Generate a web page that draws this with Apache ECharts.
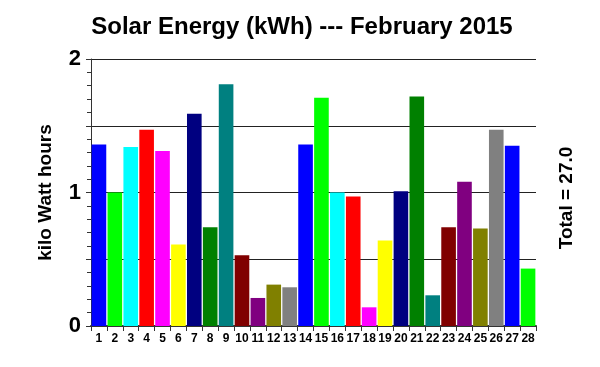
<!DOCTYPE html>
<html>
<head>
<meta charset="utf-8">
<script src="https://cdn.jsdelivr.net/npm/echarts@6/dist/echarts.min.js"></script>
<style>html,body{margin:0;padding:0;background:#fff}#c{width:600px;height:367px}</style>
</head>
<body>
<div id="c"></div>
<script>
const days = ['1','2','3','4','5','6','7','8','9','10','11','12','13','14','15','16','17','18','19','20','21','22','23','24','25','26','27','28'];
const energy = [1.36,1.00,1.34,1.47,1.31,0.61,1.59,0.74,1.81,0.53,0.21,0.31,0.29,1.36,1.71,1.00,0.97,0.14,0.64,1.01,1.72,0.23,0.74,1.08,0.73,1.47,1.35,0.43];
const palette = ['#0000FF','#00FF00','#00FFFF','#FF0000','#FF00FF','#FFFF00','#000080','#008000','#008080','#800000','#800080','#808000','#808080'];
const yTickLabels = ['0','1','2'];
const titleText = 'Solar Energy (kWh) --- February 2015';
const yName = 'kilo Watt hours';
const totalText = 'Total = 27.0';

const font = 'Liberation Sans, Arial, sans-serif';
const chart = echarts.init(document.getElementById('c'), null, {renderer:'canvas'});
chart.setOption({
  animation: false,
  backgroundColor: '#fff',
  title: {
    text: titleText, left: 297, top: 10, textAlign: 'center',
    textStyle: {fontFamily: font, fontSize: 24, fontWeight: 'bold', color: '#000'}
  },
  grid: {left: 91, right: 64, top: 59, bottom: 41, containLabel: false},
  xAxis: {
    type: 'category', data: days,
    axisLine: {lineStyle: {color: '#333', width: 2}},
    axisTick: {show: true, length: 5, lineStyle: {color: '#333'}},
    axisLabel: {interval: 0, margin: 7, fontFamily: font, fontSize: 12, fontWeight: 'bold', color: '#000'}
  },
  yAxis: {
    type: 'value', min: 0, max: 2, interval: 0.5,
    axisLine: {show: true, lineStyle: {color: '#333'}},
    axisTick: {show: true, length: 5, lineStyle: {color: '#333'}},
    minorTick: {show: true, splitNumber: 5, length: 4, lineStyle: {color: '#333'}},
    splitLine: {show: true, lineStyle: {color: '#222', width: 1}},
    axisLabel: {
      margin: 10, fontFamily: font, fontSize: 22, fontWeight: 'bold', color: '#000',
      padding: [0, 0, 12, 0],
      formatter: function (v) { const i = yTickLabels.indexOf(String(v)); return i >= 0 ? yTickLabels[i] : ''; }
    },
    name: yName, nameLocation: 'middle', nameGap: 36, nameRotate: 90,
    nameTextStyle: {fontFamily: font, fontSize: 19, fontWeight: 'bold', color: '#000'}
  },
  graphic: [{
    type: 'text', x: 567, y: 198, rotation: Math.PI / 2,
    style: {text: totalText, fontFamily: font, fontSize: 19, fontWeight: 'bold', fill: '#000', textAlign: 'center', textVerticalAlign: 'middle'}
  }],
  series: [{
    type: 'bar', barCategoryGap: '8%',
    data: energy.map(function (v, i) { return {value: v, itemStyle: {color: palette[i % palette.length]}}; })
  }]
});
</script>
</body>
</html>
